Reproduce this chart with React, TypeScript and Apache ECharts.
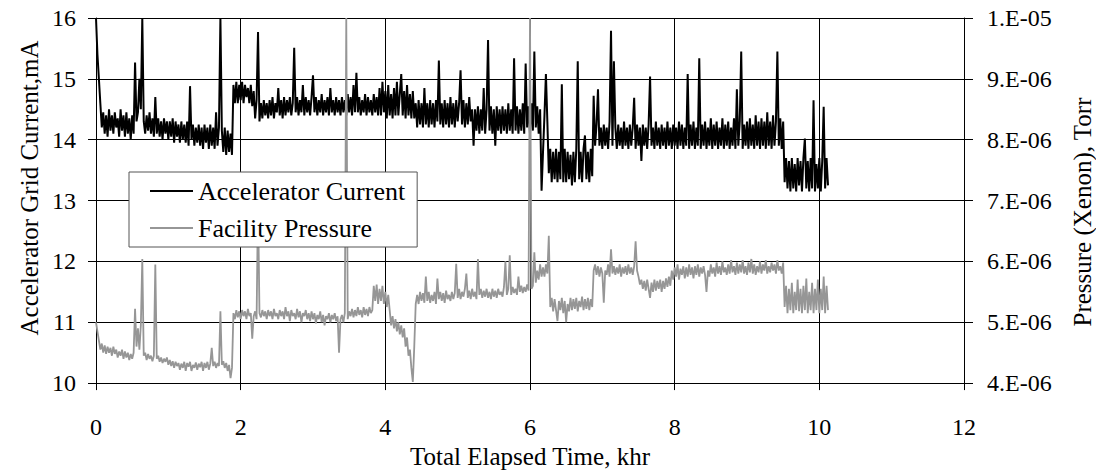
import React, { useEffect, useRef } from "react";
import * as echarts from "echarts";

// Sampling interval of the logged data, khr (first sample at 0 khr)
const sampleStepKhr = 0.02;

const xTicksKhr = [0, 2, 4, 6, 8, 10, 12];
const seriesNames = ["Accelerator Current", "Facility Pressure"];

// Accelerator grid current, mA (left axis)
const accelCurrentMa = [
  16.0, 15.4, 15.0, 14.6, 14.2, 14.45, 14.1, 14.4, 14.05, 14.5,
  14.15, 14.4, 14.1, 14.45, 14.2, 14.35, 14.05, 14.5, 14.15, 14.4,
  14.05, 14.45, 14.1, 14.35, 14.0, 14.4, 14.1, 15.27, 14.3, 14.45,
  15.0, 14.5, 16.0, 14.3, 14.1, 14.4, 14.15, 14.45, 14.1, 14.35,
  14.05, 14.7, 14.1, 14.35, 14.05, 14.3, 14.0, 14.35, 14.1, 14.3,
  14.0, 14.3, 14.05, 14.35, 13.95, 14.3, 14.05, 14.25, 13.95, 14.3,
  14.0, 14.25, 13.95, 14.3, 13.9, 14.88, 14.0, 14.25, 13.9, 14.2,
  13.95, 14.25, 13.9, 14.2, 13.85, 14.25, 13.95, 14.2, 13.85, 14.25,
  13.9, 14.2, 13.85, 14.45, 13.9, 14.2, 16.0, 14.15, 13.8, 14.2,
  13.75, 14.15, 13.8, 14.1, 13.75, 14.9, 14.6, 14.95, 14.6, 14.9,
  14.65, 14.95, 14.6, 14.9, 14.7, 14.85, 14.6, 14.9, 14.55, 14.8,
  14.35, 14.65, 15.77, 14.3, 14.6, 14.35, 14.65, 14.4, 14.6, 14.35,
  14.65, 14.4, 14.7, 14.35, 14.6, 14.45, 14.85, 14.4, 14.65, 14.35,
  14.7, 14.4, 14.65, 14.45, 14.7, 14.4, 14.6, 15.51, 14.45, 14.7,
  14.4, 14.65, 14.45, 14.9, 14.4, 14.7, 14.45, 14.65, 14.4, 14.7,
  15.06, 14.45, 14.7, 14.4, 14.65, 14.45, 14.75, 14.4, 14.65, 14.45,
  14.7, 14.4, 14.85, 14.45, 14.65, 14.4, 14.7, 14.45, 14.65, 14.4,
  14.7, 14.45, 14.65, 14.4, 14.75, 14.45, 14.7, 14.4, 14.9, 14.45,
  15.1, 14.45, 14.7, 14.4, 14.65, 14.45, 14.75, 14.4, 14.7, 14.45,
  14.65, 14.4, 14.75, 14.45, 14.7, 14.4, 14.85, 14.4, 14.95, 14.45,
  14.8, 14.35, 14.9, 14.4, 14.75, 14.35, 14.85, 14.4, 14.95, 14.4,
  14.75, 15.08, 14.4, 14.8, 14.35, 14.9, 14.4, 14.75, 14.35, 14.8,
  14.35, 14.6, 14.2, 14.65, 14.25, 14.6, 14.2, 14.85, 14.25, 14.6,
  14.2, 14.65, 14.25, 14.6, 14.2, 14.65, 14.3, 15.3, 14.25, 14.6,
  14.2, 14.65, 14.25, 14.6, 14.2, 14.7, 14.25, 14.6, 14.2, 14.65,
  14.3, 14.6, 15.14, 14.25, 14.65, 14.2, 14.6, 14.25, 14.7, 14.3,
  14.5, 13.9, 14.5, 14.15, 14.55, 14.1, 14.5, 14.15, 14.85, 14.1,
  14.5, 15.64, 14.15, 14.55, 14.1, 14.5, 13.9, 14.55, 14.15, 14.5,
  14.1, 14.55, 14.15, 14.5, 14.1, 14.6, 14.15, 14.5, 14.1, 15.34,
  14.15, 14.55, 14.1, 14.5, 14.15, 14.6, 14.1, 15.25, 14.2, 14.55,
  14.1, 14.6, 14.15, 15.45, 14.2, 14.55, 14.1, 14.5, 13.16, 13.8,
  14.4, 15.08, 14.3, 13.45, 13.85, 13.3, 13.8, 13.35, 13.85, 13.3,
  13.8, 13.35, 14.91, 13.3, 13.85, 13.3, 13.8, 13.35, 13.75, 13.25,
  13.8, 13.3, 13.85, 15.29, 13.35, 13.8, 13.3, 13.85, 14.07, 13.35,
  13.8, 13.3, 13.85, 13.4, 14.72, 13.9, 14.25, 14.83, 13.9, 14.2,
  13.85, 14.25, 13.9, 14.2, 13.85, 14.3, 15.79, 13.9, 15.29, 14.2,
  13.85, 14.25, 13.9, 14.2, 13.85, 14.3, 13.9, 14.2, 13.85, 14.25,
  13.9, 14.2, 14.69, 13.85, 14.25, 13.9, 14.2, 13.65, 14.25, 13.9,
  14.2, 13.85, 14.25, 15.04, 13.9, 14.2, 13.85, 14.3, 13.9, 14.2,
  13.85, 14.25, 13.9, 14.2, 13.85, 14.3, 13.9, 14.2, 13.85, 14.25,
  13.9, 14.2, 13.85, 14.3, 13.9, 14.25, 13.85, 14.2, 13.9, 15.08,
  13.85, 14.25, 13.9, 14.3, 13.85, 14.2, 13.9, 15.34, 13.85, 14.25,
  13.9, 14.3, 13.85, 14.2, 13.9, 14.35, 13.85, 14.25, 13.9, 14.3,
  13.85, 14.2, 13.9, 14.35, 13.85, 14.25, 13.9, 14.3, 13.85, 14.2,
  13.9, 14.35, 13.85, 14.83, 13.9, 14.3, 15.45, 13.85, 14.25, 13.9,
  14.3, 13.85, 14.35, 13.9, 14.25, 13.85, 14.4, 13.9, 14.3, 13.85,
  14.35, 13.9, 14.3, 13.85, 14.45, 13.9, 14.3, 13.85, 14.4, 13.9,
  14.3, 15.45, 13.9, 14.35, 13.85, 14.3, 13.3, 13.7, 13.2, 13.65,
  13.15, 13.7, 13.2, 13.6, 13.15, 13.7, 13.25, 13.65, 13.15, 13.7,
  14.02, 13.2, 13.65, 13.15, 13.7, 13.2, 14.65, 13.15, 13.6, 13.2,
  13.7, 13.15, 13.65, 14.54, 13.2, 13.7, 13.25,
];

// Facility pressure (xenon), in units of 1e-6 Torr (right axis)
const facilityPressureMicroTorr = [
  5.0, 4.85, 4.7, 4.55, 4.65, 4.5, 4.62, 4.48, 4.6, 4.5,
  4.58, 4.45, 4.6, 4.48, 4.55, 4.42, 4.52, 4.45, 4.55, 4.4,
  4.52, 4.42, 4.5, 4.38, 4.48, 4.4, 4.5, 5.22, 4.6, 4.9,
  4.55, 4.95, 6.04, 4.45, 4.5, 4.38, 4.48, 4.4, 4.45, 4.36,
  4.45, 5.95, 4.4, 4.45, 4.35, 4.42, 4.33, 4.4, 4.35, 4.42,
  4.3, 4.38, 4.28, 4.36, 4.25, 4.35, 4.28, 4.33, 4.22, 4.32,
  4.25, 4.35, 4.2, 4.33, 4.27, 4.35, 4.2, 4.3, 4.25, 4.34,
  4.22, 4.32, 4.26, 4.35, 4.2, 4.33, 4.25, 4.35, 4.22, 4.32,
  4.58, 4.28, 4.35, 4.25, 4.33, 4.28, 5.18, 4.3, 4.36, 4.25,
  4.33, 4.2, 4.3, 4.08, 4.25, 5.15, 5.05, 5.2, 5.08, 5.18,
  5.05, 5.2, 5.1, 5.18, 5.05, 5.22, 5.1, 5.15, 4.73, 5.1,
  5.18, 5.05, 7.0, 5.15, 5.08, 5.2, 5.1, 5.18, 5.05, 5.2,
  5.1, 5.18, 5.05, 5.22, 5.1, 5.15, 5.05, 5.2, 5.1, 5.18,
  5.05, 5.25, 5.1, 5.18, 5.02, 5.2, 5.1, 5.15, 5.05, 5.22,
  5.08, 5.18, 5.0, 5.15, 5.1, 5.2, 5.05, 5.15, 5.02, 5.18,
  5.05, 5.15, 4.98, 5.12, 5.05, 5.18, 5.0, 5.12, 4.95, 5.1,
  5.05, 5.15, 5.0, 5.12, 5.05, 5.15, 5.02, 5.1, 4.5, 5.05,
  5.12, 5.0, 5.15, 10.0, 5.05, 5.18, 5.1, 5.22, 5.08, 5.2,
  5.1, 5.25, 5.12, 5.2, 5.08, 5.25, 5.12, 5.22, 5.1, 5.25,
  5.15, 5.2, 5.6, 5.35, 5.62, 5.3, 5.55, 5.35, 5.6, 5.3,
  5.5, 5.25, 5.45, 5.2, 4.95, 5.1, 4.9, 5.05, 4.85, 5.0,
  4.8, 4.95, 4.75, 4.9, 4.6, 4.75, 4.45, 4.55, 4.25, 4.02,
  4.6, 5.3, 5.45, 5.3, 5.5, 5.35, 5.48, 5.32, 5.75, 5.35,
  5.5, 5.32, 5.45, 5.35, 5.5, 5.3, 5.72, 5.38, 5.5, 5.35,
  5.48, 5.32, 5.52, 5.38, 5.45, 5.35, 5.5, 5.38, 5.48, 5.96,
  5.4, 5.55, 5.38, 5.5, 5.42, 5.55, 5.8, 5.4, 5.52, 5.38,
  5.55, 5.42, 5.5, 5.38, 6.04, 5.45, 5.55, 5.4, 5.52, 5.42,
  5.55, 5.4, 5.5, 5.38, 5.55, 5.42, 5.52, 5.4, 5.55, 5.45,
  5.5, 5.42, 5.58, 6.0, 5.45, 5.55, 6.1, 5.45, 5.58, 5.48,
  5.55, 5.45, 5.75, 5.5, 5.6, 5.48, 5.58, 5.5, 5.62, 5.52,
  10.0, 5.55, 5.6, 6.15, 5.65, 5.85, 5.7, 5.95, 5.75, 5.9,
  5.75, 5.95, 5.8, 6.42, 5.25, 5.4, 5.18, 5.38, 5.2, 5.02,
  5.35, 5.2, 5.4, 5.15, 5.35, 5.0, 5.3, 5.18, 5.4, 5.2,
  5.38, 5.22, 5.4, 5.18, 5.35, 5.25, 5.42, 5.2, 5.38, 5.22,
  5.4, 5.2, 5.38, 5.25, 5.85, 5.95, 5.78, 5.92, 5.75, 5.9,
  5.8, 5.32, 5.85, 5.78, 5.95, 5.75, 6.2, 5.8, 5.92, 5.78,
  5.9, 5.8, 5.95, 5.75, 5.9, 5.8, 5.92, 5.78, 5.95, 5.8,
  5.9, 5.78, 5.92, 6.33, 5.85, 5.75, 5.62, 5.7, 5.55, 5.68,
  5.52, 5.7, 5.55, 5.4, 5.65, 5.5, 5.7, 5.52, 5.68, 5.55,
  5.7, 5.5, 5.68, 5.55, 5.72, 5.58, 5.75, 5.6, 5.85, 5.7,
  5.9, 5.75, 5.95, 5.7, 5.88, 5.78, 5.92, 5.72, 5.9, 5.75,
  5.95, 5.78, 5.9, 5.72, 5.92, 5.78, 5.95, 5.75, 5.9, 5.8,
  5.92, 5.78, 5.5, 5.85, 5.75, 5.95, 5.8, 5.9, 5.75, 5.98,
  5.8, 5.92, 5.78, 6.0, 5.82, 5.9, 5.78, 5.95, 5.8, 6.02,
  5.82, 5.92, 5.78, 5.98, 5.8, 5.95, 5.82, 6.02, 5.8, 5.92,
  5.78, 5.98, 5.82, 6.04, 5.8, 5.95, 5.78, 5.92, 5.82, 6.0,
  5.8, 5.95, 5.85, 6.02, 5.8, 5.92, 5.82, 5.98, 5.85, 5.95,
  5.8, 6.02, 5.85, 5.92, 5.8, 5.98, 5.25, 5.6, 5.15, 5.55,
  5.2, 5.65, 5.15, 5.5, 5.2, 5.7, 5.18, 5.55, 5.15, 5.6,
  5.2, 5.72, 5.15, 5.5, 5.2, 5.65, 5.15, 5.55, 5.2, 5.7,
  5.15, 5.55, 5.2, 5.75, 5.15, 5.6, 5.2,
];

const FONT = "Liberation Serif, Times New Roman, serif";

function formatTorr(v: number): string {
  const [m, e] = v.toExponential(0).split("e");
  const ex = Math.abs(parseInt(e, 10));
  return `${m}.E-${String(ex).padStart(2, "0")}`;
}

export default function App() {
  const ref = useRef<HTMLDivElement>(null);

  useEffect(() => {
    if (!ref.current) return;
    const chart = echarts.init(ref.current, undefined, { renderer: "svg" });

    const accelData = accelCurrentMa.map((v, i) => [
      +(i * sampleStepKhr).toFixed(3),
      v,
    ]);
    const pressureData = facilityPressureMicroTorr.map((v, i) => [
      +(i * sampleStepKhr).toFixed(3),
      v * 1e-6,
    ]);

    const axisLine = { show: true, lineStyle: { color: "#000", width: 1 } };
    const labelStyle = { fontFamily: FONT, fontSize: 24, color: "#000" };

    chart.setOption({
      animation: false,
      backgroundColor: "#fff",
      grid: { left: 96, right: 132, top: 18, bottom: 86 },
      xAxis: {
        type: "value",
        min: xTicksKhr[0],
        max: xTicksKhr[xTicksKhr.length - 1],
        interval: 2,
        name: "Total Elapsed Time, khr",
        nameLocation: "middle",
        nameGap: 57,
        nameTextStyle: { fontFamily: FONT, fontSize: 25, color: "#000" },
        axisLine,
        axisTick: { show: true, length: 7, lineStyle: { color: "#000" } },
        axisLabel: { ...labelStyle, margin: 32 },
        splitLine: { show: true, lineStyle: { color: "#000", width: 1 } },
      },
      yAxis: [
        {
          type: "value",
          position: "left",
          min: 10,
          max: 16,
          interval: 1,
          axisLine,
          axisTick: { show: true, length: 8, lineStyle: { color: "#000" } },
          axisLabel: { ...labelStyle, margin: 20 },
          splitLine: { show: true, lineStyle: { color: "#000", width: 1 } },
        },
        {
          type: "value",
          position: "right",
          min: 4e-6,
          max: 1e-5,
          interval: 1e-6,
          axisLine,
          axisTick: { show: true, length: 9, lineStyle: { color: "#000" } },
          axisLabel: { ...labelStyle, margin: 23, formatter: formatTorr },
          splitLine: { show: false },
        },
      ],
      legend: {
        show: true,
        orient: "vertical",
        left: 129,
        top: 172,
        padding: [6, 12, 6, 21],
        itemGap: 11,
        itemWidth: 43,
        itemHeight: 2,
        icon: "rect",
        backgroundColor: "#fff",
        borderColor: "#555",
        borderWidth: 1,
        borderRadius: 0,
        textStyle: { fontFamily: FONT, fontSize: 26, color: "#000" },
        data: seriesNames,
        z: 10,
      },
      graphic: [
        {
          type: "text",
          x: 29,
          y: 188,
          rotation: Math.PI / 2,
          style: {
            text: "Accelerator Grid Current,mA",
            fontFamily: FONT,
            fontSize: 25,
            fill: "#000",
            align: "center",
            verticalAlign: "middle",
          },
        },
        {
          type: "text",
          x: 1082,
          y: 212,
          rotation: Math.PI / 2,
          style: {
            text: "Pressure (Xenon), Torr",
            fontFamily: FONT,
            fontSize: 25,
            fill: "#000",
            align: "center",
            verticalAlign: "middle",
          },
        },
      ],
      series: [
        {
          name: seriesNames[0],
          type: "line",
          xAxisIndex: 0,
          yAxisIndex: 0,
          data: accelData,
          symbol: "none",
          showSymbol: false,
          lineStyle: { color: "#000", width: 2 },
          itemStyle: { color: "#000" },
          clip: true,
          z: 2,
        },
        {
          name: seriesNames[1],
          type: "line",
          xAxisIndex: 0,
          yAxisIndex: 1,
          data: pressureData,
          symbol: "none",
          showSymbol: false,
          lineStyle: { color: "#969696", width: 1.8 },
          itemStyle: { color: "#969696" },
          clip: true,
          z: 3,
        },
      ],
    });

    return () => chart.dispose();
  }, []);

  return (
    <div
      ref={ref}
      style={{ position: "absolute", left: 0, top: 0, width: 1096, height: 474 }}
    />
  );
}
